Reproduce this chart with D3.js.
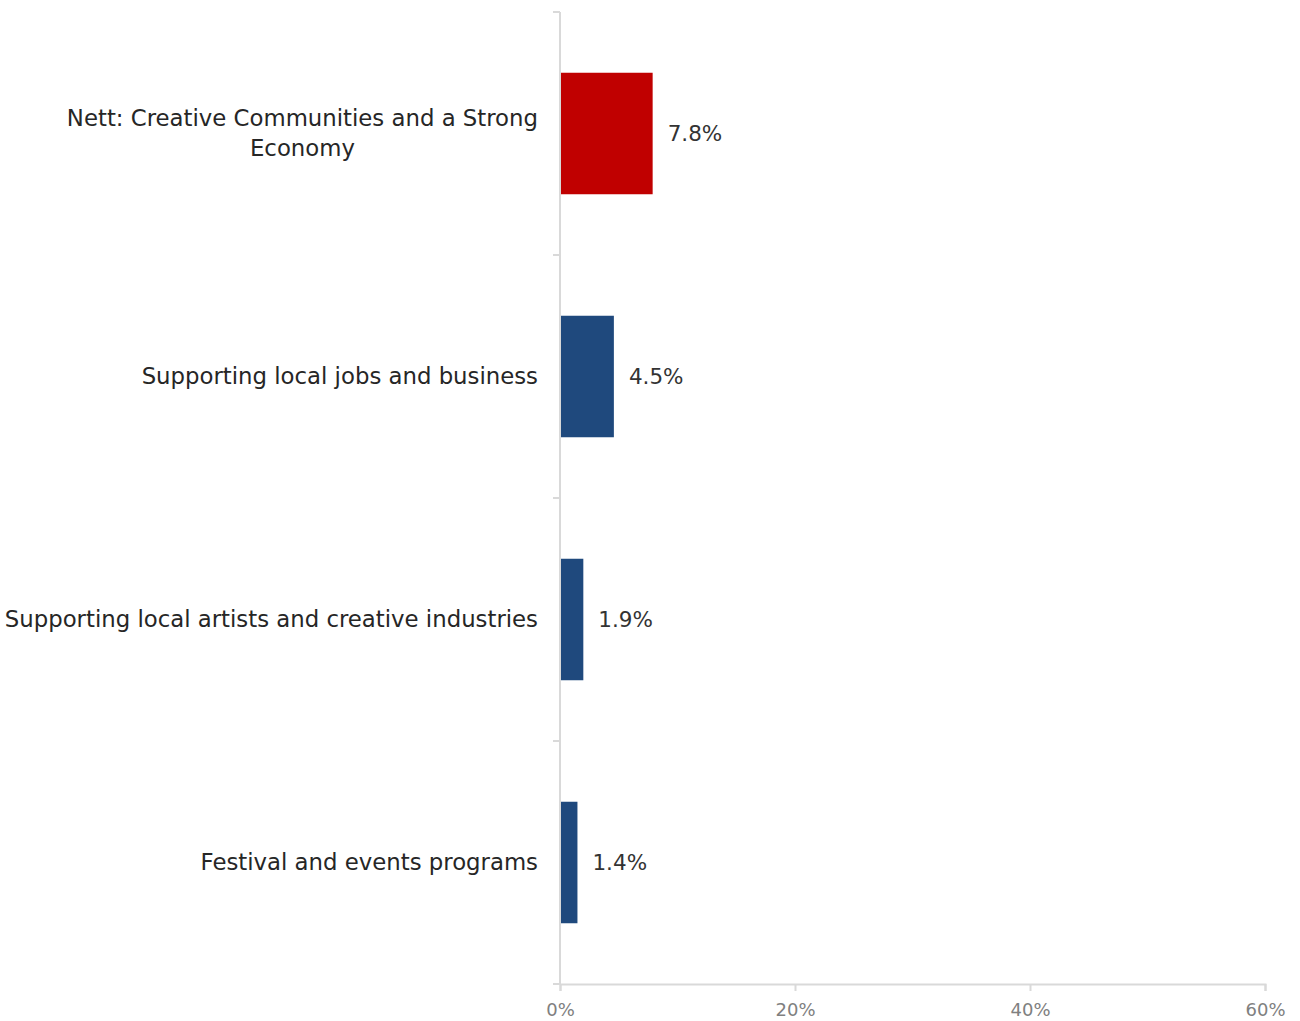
<!DOCTYPE html>
<html><head><meta charset="utf-8">
<script src="https://cdn.jsdelivr.net/npm/d3@7"></script>
<style>body{margin:0;background:#fff}svg{display:block}</style>
</head><body>
<svg id="c" width="1300" height="1021"></svg>
<script>
const categories = [
  ["Nett: Creative Communities and a Strong", "Economy"],
  ["Supporting local jobs and business"],
  ["Supporting local artists and creative industries"],
  ["Festival and events programs"]
];
const values = [7.8, 4.5, 1.9, 1.4];
const barColors = ["#C00000", "#1F497D", "#1F497D", "#1F497D"];
const xTicks = [0, 20, 40, 60];

(function () {
const svg = d3.select("#c");
const font = "'DejaVu Sans', sans-serif";
const mL = 560, mR = 1265, mT = 12, mB = 984;
const x = d3.scaleLinear().domain([0, 60]).range([mL, mR]);
const y = d3.scaleBand().domain(d3.range(values.length)).range([mT, mB]).paddingInner(0.5).paddingOuter(0.25);

svg.selectAll("rect.bar").data(values).join("rect")
  .attr("x", x(0) + 1).attr("y", (d, i) => y(i))
  .attr("width", d => x(d) - x(0)).attr("height", y.bandwidth())
  .attr("fill", (d, i) => barColors[i]);

svg.selectAll("text.val").data(values).join("text")
  .attr("x", d => x(d) + 16).attr("y", (d, i) => y(i) + y.bandwidth() / 2)
  .attr("dy", "0.35em").attr("font-family", font).attr("font-size", 21.5)
  .attr("fill", "#333333").text(d => d.toFixed(1) + "%");

const cat = svg.selectAll("text.cat").data(categories).join("text")
  .attr("font-family", font).attr("font-size", 22.8).attr("fill", "#262626")
  .attr("text-anchor", "middle");
cat.each(function (lines, i) {
  const t = d3.select(this);
  const cy = y(i) + y.bandwidth() / 2;
  const lh = 30;
  const n = lines.length;
  lines.forEach((l, j) => {
    t.append("tspan").text(l).attr("x", 0).attr("y", cy + (j - (n - 1) / 2) * lh).attr("dy", "0.35em");
  });
  const w = this.getBBox().width;
  t.selectAll("tspan").attr("x", 538 - w / 2);
});

const yAxisG = svg.append("g").attr("transform", `translate(${mL},0)`);
yAxisG.append("line").attr("x1", 0).attr("x2", 0).attr("y1", mT).attr("y2", mB)
  .attr("stroke", "#d9d9d9").attr("stroke-width", 2);
const yb = d3.range(values.length + 1).map(i => mT + i * (mB - mT) / values.length);
yAxisG.selectAll("line.t").data(yb).join("line")
  .attr("x1", -7).attr("x2", 0).attr("y1", d => d).attr("y2", d => d)
  .attr("stroke", "#d9d9d9").attr("stroke-width", 2);

const xAxis = d3.axisBottom(x).tickValues(xTicks).tickFormat(d => d + "%").tickSizeOuter(0).tickSize(7).tickPadding(12);
const xg = svg.append("g").attr("transform", `translate(0,${mB})`).call(xAxis);
xg.select(".domain").attr("stroke", "#d9d9d9").attr("stroke-width", 2);
xg.selectAll(".tick line").attr("stroke", "#d9d9d9").attr("stroke-width", 2);
xg.selectAll(".tick text").attr("font-family", font).attr("font-size", 18).attr("fill", "#808080");
})();
</script>
</body></html>
